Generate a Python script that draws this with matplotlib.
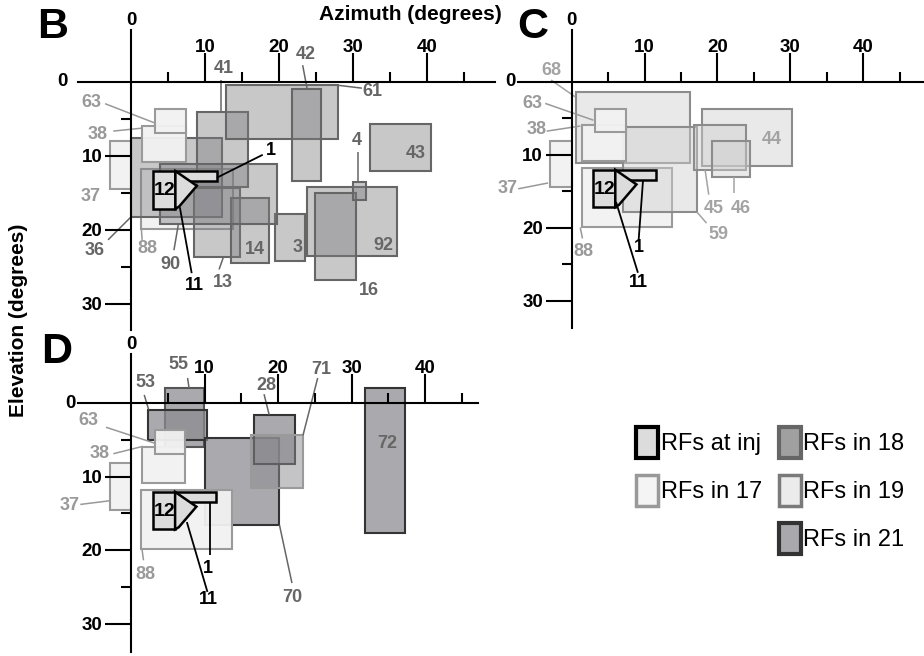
import matplotlib
matplotlib.use("Agg")
import matplotlib.pyplot as plt
from matplotlib.patches import Rectangle, Polygon, Patch
from matplotlib.colors import to_rgba

W, H = 924, 656
plt.rcParams['font.family'] = ['Liberation Sans', 'DejaVu Sans']

# receptive fields as (az0, az1, el0, el1) in degrees
INJ_RECTS = {"12": (3.0, 6.0, 12.1, 17.2), "1": (6.0, 11.6, 12.1, 13.5)}
INJ_11 = [(6.0, 12.1), (8.9, 14.1), (6.5, 16.9), (6.0, 17.2)]

RF_17 = {
    "88": (1.4, 13.8, 11.8, 19.9),
    "37": (-2.9, 0.0, 8.1, 14.5),
    "38": (1.5, 7.4, 6.0, 10.9),
    "63": (3.2, 7.4, 3.7, 6.9),
}

RF_18 = {
    "36": (0.0, 12.3, 7.6, 18.3),
    "41": (8.9, 15.8, 4.1, 14.3),
    "61": (12.8, 28.0, 0.5, 7.8),
    "42": (21.8, 25.7, 1.0, 13.4),
    "43": (32.3, 40.5, 5.7, 12.1),
    "92": (23.8, 35.9, 14.3, 23.6),
    "16": (24.9, 30.4, 15.1, 26.8),
    "4": (30.0, 31.8, 13.6, 16.0),
    "3": (19.5, 23.5, 17.9, 24.3),
    "13": (8.5, 14.7, 14.4, 23.7),
    "14": (13.5, 18.6, 15.7, 24.5),
    "90": (3.9, 19.7, 11.1, 19.3),
}

RF_19 = {
    "68": (0.6, 16.3, 1.5, 11.1),
    "59": (7.1, 17.2, 6.2, 17.9),
    "44": (17.9, 30.2, 3.7, 11.6),
    "45": (16.8, 23.9, 5.9, 12.1),
    "46": (19.2, 24.4, 8.2, 13.1),
}

RF_21 = {
    "55": (4.6, 9.9, -2.0, 6.0),
    "53": (2.3, 10.3, 0.9, 5.1),
    "70": (10.1, 20.2, 4.8, 16.6),
    "28": (16.8, 22.3, 1.6, 8.3),
    "71": (16.3, 23.4, 4.4, 11.5),
    "72": (31.8, 37.3, -2.0, 17.7),
}

AZ_MAJOR = [10, 20, 30, 40]
AZ_MINOR = [5, 15, 25, 35, 45]
EL_MAJOR = [10, 20, 30]
EL_MINOR = [5, 15, 25]

# label placement: (text, x, y, leader line (x0, y0, x1, y1) or None)
LABELS_B = [
    ("63", -5.3, 2.8, (-3.5, 3.0, 3.2, 5.6)),
    ("38", -4.5, 7.1, (-2.4, 6.7, 1.5, 6.3)),
    ("37", -5.5, 15.5, None),
    ("88", 2.2, 22.6, (1.4, 19.9, 1.5, 21.4)),
    ("36", -4.9, 22.9, (-3.1, 21.4, 0.0, 18.3)),
    ("90", 5.3, 24.7, (6.4, 19.3, 5.8, 22.8)),
    ("13", 12.4, 27.1, (12.5, 23.7, 11.9, 25.4)),
    ("14", 16.7, 22.7, None),
    ("3", 22.5, 22.5, None),
    ("92", 34.1, 22.1, None),
    ("16", 32.2, 28.2, None),
    ("4", 30.5, 8.0, (30.7, 9.5, 30.7, 13.6)),
    ("43", 38.5, 9.7, None),
    ("41", 12.6, -1.7, (12.2, -0.2, 12.2, 4.1)),
    ("42", 23.6, -3.6, (23.2, -2.2, 23.8, 1.0)),
    ("61", 32.6, 1.3, (27.9, 0.5, 31.2, 0.9)),
    ("1", 18.9, 9.3, (11.6, 13.0, 17.8, 9.9)),
    ("11", 8.6, 27.6, (6.6, 17.0, 8.2, 25.9)),
]

LABELS_C = [
    ("68", -2.8, -1.5, (-2.8, -0.2, 0.5, 2.1)),
    ("63", -5.4, 3.0, (-3.6, 3.0, 3.0, 5.3)),
    ("38", -4.8, 6.6, (-3.4, 6.8, 1.2, 6.1)),
    ("37", -8.8, 14.6, (-7.3, 14.7, -3.2, 13.9)),
    ("88", 1.6, 23.3, (1.2, 20.0, 1.5, 21.5)),
    ("44", 27.5, 8.0, None),
    ("45", 19.5, 17.4, (18.3, 12.1, 18.8, 15.5)),
    ("46", 23.2, 17.4, (22.3, 13.1, 22.3, 15.3)),
    ("59", 20.1, 20.9, (17.2, 17.9, 18.5, 19.4)),
    ("1", 9.2, 22.7, (9.8, 13.5, 9.2, 21.7)),
    ("11", 9.2, 27.6, (6.1, 16.5, 9.1, 26.2)),
]

LABELS_D = [
    ("53", 1.9, -2.8, (1.8, -1.1, 2.4, 0.9)),
    ("55", 6.5, -5.2, (7.7, -3.4, 7.9, -2.0)),
    ("28", 18.4, -2.4, (18.1, -1.2, 18.8, 1.6)),
    ("71", 25.9, -4.6, (25.4, -3.4, 23.4, 4.4)),
    ("72", 34.8, 5.5, None),
    ("70", 22.0, 26.4, (20.2, 16.6, 21.9, 24.5)),
    ("63", -5.8, 2.4, (-3.4, 3.3, 3.3, 5.5)),
    ("38", -4.3, 6.9, (-2.4, 6.9, 1.6, 5.9)),
    ("37", -8.3, 13.9, (-6.9, 13.8, -2.9, 13.3)),
    ("88", 2.0, 23.4, (1.5, 19.9, 1.7, 21.4)),
    ("1", 10.5, 22.5, (10.7, 13.5, 10.7, 20.7)),
    ("11", 10.5, 26.8, (7.6, 16.2, 10.4, 25.7)),
]

STYLE = {
    'inj': dict(fc='#dcdcdc', ec='black', lw=1.8, alpha=1.0, text='black'),
    '17': dict(fc='#f2f2f2', ec='#9a9a9a', lw=1.5, alpha=0.95, text='#999999'),
    '18': dict(fc='#7c7c80', ec='#666666', lw=1.5, alpha=0.42, text='#666666'),
    '19': dict(fc='#cfcfcf', ec='#8c8c8c', lw=1.5, alpha=0.45, text='#a3a3a3'),
    '21': dict(fc='#8b8b90', ec='#333333', lw=1.5, alpha=0.73, text='#666666'),
}
OVERRIDE = {"71": dict(ec='#9a9a9a', alpha=0.5), "55": dict(ec='#555555')}


def area_of(name, groups):
    for area, rfs in groups:
        if name in rfs:
            return area
    return 'inj'


def make_axes(fig, origin, scale, xlim, ylim, zero_x, zero_y):
    ox, oy = origin
    left, right = ox + xlim[0] * scale, ox + xlim[1] * scale
    top, bottom = oy + ylim[0] * scale, oy + ylim[1] * scale
    ax = fig.add_axes([left / W, 1 - bottom / H, (right - left) / W, (bottom - top) / H])
    ax.set_xlim(*xlim)
    ax.set_ylim(ylim[1], ylim[0])
    ax.patch.set_visible(False)
    ax.spines[['right', 'bottom']].set_visible(False)
    for side in ('left', 'top'):
        ax.spines[side].set_position(('data', 0))
        ax.spines[side].set_linewidth(1.5)
        ax.spines[side].set_zorder(10)
    ax.xaxis.set_zorder(10)
    ax.yaxis.set_zorder(10)
    ax.xaxis.set_ticks_position('top')
    ax.yaxis.set_ticks_position('left')
    ax.set_xticks(AZ_MAJOR)
    ax.set_xticks(AZ_MINOR, minor=True)
    ax.set_yticks(EL_MAJOR)
    ax.set_yticks(EL_MINOR, minor=True)
    ax.tick_params(which='both', direction='out', width=1.5)
    ax.tick_params(axis='x', which='major', length=21, pad=-2.5, labelsize=13.5)
    ax.tick_params(axis='x', which='minor', length=7.5)
    ax.tick_params(axis='y', which='major', length=19, pad=1.5, labelsize=13.5)
    ax.tick_params(axis='y', which='minor', length=7.5)
    for lab in ax.get_xticklabels() + ax.get_yticklabels():
        lab.set_fontweight('bold')
    ax.text(0, zero_y, '0', ha='center', va='center', fontsize=13.5,
            fontweight='bold', clip_on=False)
    ax.text(zero_x, 0, '0', ha='center', va='center', fontsize=13.5,
            fontweight='bold', clip_on=False)
    return ax


def add_rf(ax, name, box, area, z):
    st = dict(STYLE[area])
    st.update(OVERRIDE.get(name, {}))
    az0, az1, el0, el1 = box
    ax.add_patch(Rectangle((az0, el0), az1 - az0, el1 - el0,
                           facecolor=to_rgba(st['fc'], st['alpha']),
                           edgecolor=st['ec'], linewidth=st['lw'], zorder=z))


def draw_panel(ax, groups, labels, rf17_behind):
    for name in rf17_behind:
        add_rf(ax, name, RF_17[name], '17', 1)
    for area, rfs in groups:
        if area == '17':
            continue
        for name, box in rfs.items():
            add_rf(ax, name, box, area, 2)
    for name, box in RF_17.items():
        if name not in rf17_behind:
            add_rf(ax, name, box, '17', 3)
    # injection site
    inj = STYLE['inj']
    for name, box in INJ_RECTS.items():
        add_rf(ax, name, box, 'inj', 4)
    ax.add_patch(Polygon(INJ_11, closed=True, facecolor=inj['fc'],
                         edgecolor=inj['ec'], linewidth=inj['lw'], zorder=4))
    az0, az1, el0, el1 = INJ_RECTS["12"]
    ax.text((az0 + az1) / 2, (el0 + el1) / 2 + 0.1, "12", ha='center', va='center',
            fontsize=14, fontweight='bold', zorder=6)

    for text, x, y, leader in labels:
        color = STYLE[area_of(text, groups)]['text']
        if leader is not None:
            ax.plot([leader[0], leader[2]], [leader[1], leader[3]], color=color,
                    lw=1.3 if color == 'black' else 1.1, zorder=5,
                    solid_capstyle='butt', clip_on=False)
        ax.text(x, y, text, ha='center', va='center', fontsize=13,
                fontweight='bold', color=color, zorder=6, clip_on=False)


fig = plt.figure(figsize=(W / 100, H / 100), dpi=100)

ax_b = make_axes(fig, (131, 81.5), 7.4, (-7.2, 49.2), (-7.0, 33.6), -9.3, -8.2)
draw_panel(ax_b, [('17', RF_17), ('18', RF_18)], LABELS_B, ["88"])

ax_c = make_axes(fig, (571.5, 81.5), 7.3, (-7.3, 48.4), (-7.05, 33.8), -8.3, -8.4)
draw_panel(ax_c, [('17', RF_17), ('19', RF_19)], LABELS_C, ["88"])

ax_d = make_axes(fig, (131, 403), 7.35, (-7.2, 47.2), (-6.7, 33.9), -8.3, -7.9)
draw_panel(ax_d, [('17', RF_17), ('21', RF_21)], LABELS_D, [])

# figure-level text
fig.text(53 / W, 1 - 27 / H, 'B', fontsize=31, fontweight='bold', ha='center', va='center')
fig.text(533 / W, 1 - 27 / H, 'C', fontsize=31, fontweight='bold', ha='center', va='center')
fig.text(57 / W, 1 - 352 / H, 'D', fontsize=31, fontweight='bold', ha='center', va='center')
fig.text(410 / W, 1 - 15 / H, 'Azimuth (degrees)', fontsize=15, fontweight='bold',
         ha='center', va='center')
fig.text(19 / W, 1 - 320 / H, 'Elevation (degrees)', fontsize=15, fontweight='bold',
         ha='center', va='center', rotation=90)

# legend
handles = [
    Patch(facecolor='#dcdcdc', edgecolor='black', linewidth=3, label='RFs at inj'),
    Patch(facecolor='#f4f4f4', edgecolor='#999999', linewidth=2.5, label='RFs in 17'),
    Patch(visible=False, label=' '),
    Patch(facecolor='#a0a0a0', edgecolor='#666666', linewidth=3, label='RFs in 18'),
    Patch(facecolor='#ebebeb', edgecolor='#7a7a7a', linewidth=2.5, label='RFs in 19'),
    Patch(facecolor='#a9a9ad', edgecolor='#333333', linewidth=3, label='RFs in 21'),
]
fig.legend(handles=handles, ncol=2, loc='upper left',
           bbox_to_anchor=(636 / W, 1 - 427 / H), frameon=False, fontsize=17,
           handlelength=0.93, handleheight=1.65, handletextpad=0.12,
           labelspacing=0.72, columnspacing=0.7, borderpad=0, borderaxespad=0)

fig.savefig('out.png', dpi=100)
